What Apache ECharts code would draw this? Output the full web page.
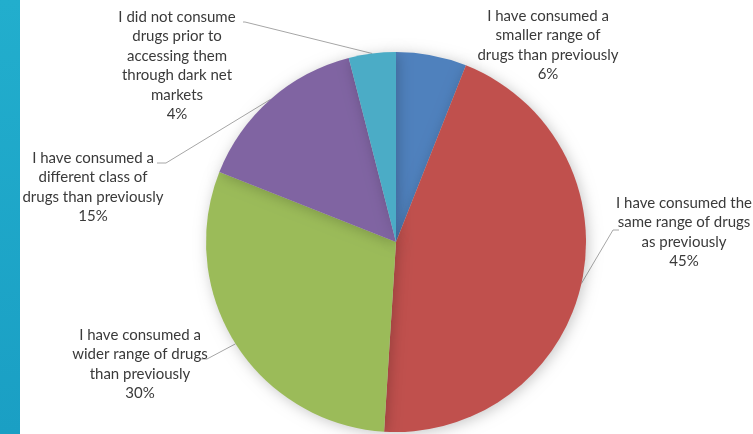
<!DOCTYPE html>
<html>
<head>
<meta charset="utf-8">
<script src="https://cdn.jsdelivr.net/npm/echarts@6/dist/echarts.min.js"></script>
<style>
html,body{margin:0;padding:0;background:#fff;}
#chart{width:753px;height:434px;}
</style>
</head>
<body>
<div id="chart"></div>
<script>
// Data
var categories = [
  "I have consumed a\nsmaller range of\ndrugs than previously",
  "I have consumed the\nsame range of drugs\nas previously",
  "I have consumed a\nwider range of drugs\nthan previously",
  "I have consumed a\ndifferent class of\ndrugs than previously",
  "I did not consume\ndrugs prior to\naccessing them\nthrough dark net\nmarkets"
];
var values = [6, 45, 30, 15, 4];
var colors = ["#4F81BD", "#C0504D", "#9BBB59", "#8064A2", "#4BACC6"];

// Label layout (positions of label text blocks, and leader line bends)
var labelPos = [
  {x: 548, y: 6,   line: null},
  {x: 684, y: 193, line: [[613, 230], [619, 230]]},
  {x: 140, y: 325, line: [[207, 359], [199, 359]]},
  {x: 93,  y: 148, line: [[166, 163], [157, 163]]},
  {x: 177, y: 7,   line: [[245, 22], [243, 22]]}
];

var chart = echarts.init(document.getElementById('chart'));
var data = categories.map(function (c, i) {
  return {name: c, value: values[i], itemStyle: {color: colors[i]}};
});

chart.setOption({
  animation: false,
  graphic: [{
    type: 'rect',
    shape: {x: 0, y: 0, width: 20, height: 434},
    style: {fill: new echarts.graphic.LinearGradient(0, 0, 1, 1, [
      {offset: 0, color: '#22AECD'}, {offset: 1, color: '#1A9FC4'}
    ])},
    z: -1
  }],
  series: [{
    type: 'pie',
    center: [396, 242],
    radius: 190,
    startAngle: 90,
    clockwise: true,
    data: data,
    itemStyle: {
      borderWidth: 0,
      shadowBlur: 14,
      shadowColor: 'rgba(0,0,0,0.22)',
      shadowOffsetX: 2,
      shadowOffsetY: 2
    },
    emphasis: {disabled: true},
    label: {
      show: true,
      position: 'outside',
      alignTo: 'none',
      overflow: 'none',
      width: 300,
      formatter: function (p) { return p.name + '\n' + p.value + '%'; },
      fontFamily: 'Lato',
      fontSize: 15,
      lineHeight: 19.5,
      color: '#3A3A3A',
      align: 'center'
    },
    labelLine: {
      show: true,
      lineStyle: {color: '#A6A6A6', width: 1}
    },
    labelLayout: function (params) {
      var lp = labelPos[params.dataIndex];
      var res = {x: lp.x, y: lp.y, align: 'center', verticalAlign: 'top'};
      if (lp.line) {
        var p0 = params.labelLinePoints[0];
        res.labelLinePoints = [p0, lp.line[0], lp.line[1]];
      } else {
        var q = params.labelLinePoints[0];
        res.labelLinePoints = [q, q, q];
      }
      return res;
    }
  }]
});
</script>
</body>
</html>
